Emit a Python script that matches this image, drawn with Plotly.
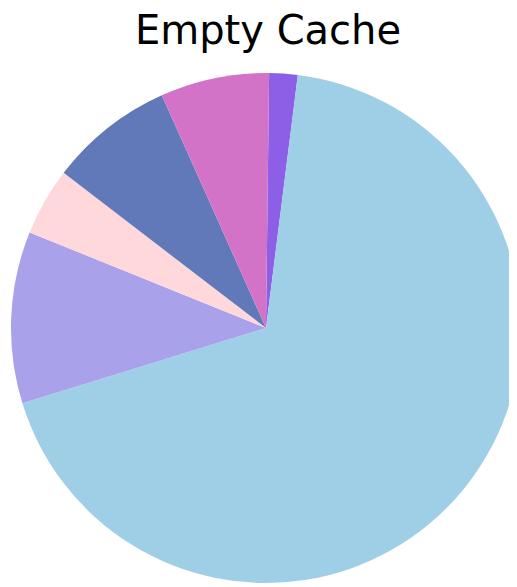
import plotly.graph_objects as go

labels = ["Flash", "Images", "Scripts", "Other", "Stylesheets", "HTML"]
values = [1.8, 68.3, 10.9, 4.3, 7.9, 6.9]
colors = ["#8C5FE6", "#9FCFE6", "#A9A1E9", "#FFD8DC", "#6179B8", "#D273C8"]

W, H = 517, 587

fig = go.Figure(go.Pie(
    labels=labels,
    values=values,
    sort=False,
    direction="clockwise",
    rotation=0.7,
    marker=dict(colors=colors, line=dict(width=0)),
    textinfo="none",
    hoverinfo="label+percent",
    showlegend=False,
    domain=dict(x=[3 / W, 513 / W], y=[(H - 575) / H, (H - 65) / H]),
))

fig.update_layout(
    width=W,
    height=H,
    margin=dict(l=0, r=0, t=0, b=0),
    paper_bgcolor="white",
    plot_bgcolor="white",
    title=dict(
        text="Empty Cache",
        font=dict(family="DejaVu Sans", size=40, color="#000000"),
        x=260 / W,
        xanchor="center",
        y=1 - 8 / H,
        yanchor="top",
        yref="container",
    ),
)

fig.write_html("out.html")
